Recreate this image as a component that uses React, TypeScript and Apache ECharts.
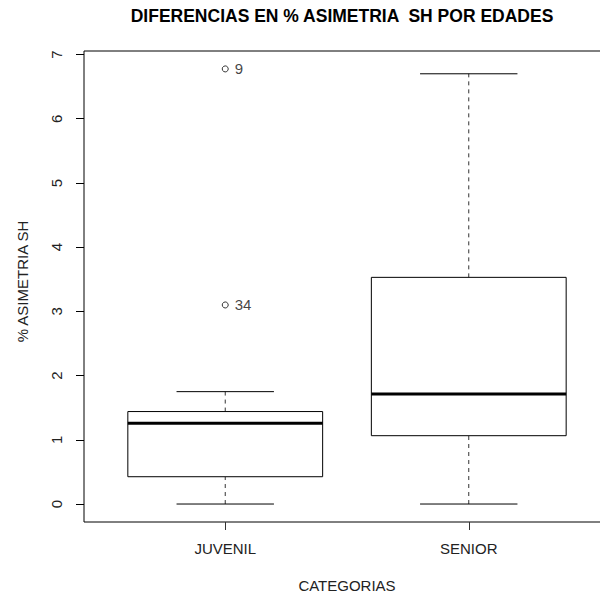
import React, { useEffect, useRef } from "react";
import * as echarts from "echarts";

// Five-number summaries per age group (boxplot statistics)
const categories = ["JUVENIL", "SENIOR"];
const lowerWhisker = [0, 0];
const q1 = [0.425, 1.064];
const median = [1.257, 1.713];
const q3 = [1.44, 3.53];
const upperWhisker = [1.75, 6.7];

// Outliers: group index, value and case id
const outlierGroup = [0, 0];
const outlierValues = [6.776, 3.1];
const outlierIds = ["9", "34"];

const yTicks = [0, 1, 2, 3, 4, 5, 6, 7];

const FONT = "'Liberation Sans', Arial, Helvetica, sans-serif";

export default function App() {
  const ref = useRef<HTMLDivElement>(null);

  useEffect(() => {
    if (!ref.current) return;
    const chart = echarts.init(ref.current, null, { renderer: "svg" });

    const boxData = categories.map((_, i) => [
      i + 1,
      lowerWhisker[i],
      q1[i],
      median[i],
      q3[i],
      upperWhisker[i],
    ]);
    const outlierData = outlierValues.map((v, i) => [
      outlierGroup[i] + 1,
      v,
      outlierIds[i],
    ]);

    const renderBox = (params: any, api: any) => {
      const x = api.value(0);
      const lo = api.coord([x, api.value(1)]);
      const b1 = api.coord([x, api.value(2)]);
      const md = api.coord([x, api.value(3)]);
      const b3 = api.coord([x, api.value(4)]);
      const hi = api.coord([x, api.value(5)]);
      const half = api.size([0.8, 0])[0] / 2;
      const capHalf = api.size([0.4, 0])[0] / 2;
      const cx = lo[0];
      return {
        type: "group",
        children: [
          {
            type: "line",
            shape: { x1: cx, y1: b3[1], x2: cx, y2: hi[1] },
            style: { stroke: "#333", lineWidth: 1, lineDash: [4, 4] },
          },
          {
            type: "line",
            shape: { x1: cx, y1: lo[1], x2: cx, y2: b1[1] },
            style: { stroke: "#333", lineWidth: 1, lineDash: [4, 4] },
          },
          {
            type: "line",
            shape: { x1: cx - capHalf, y1: hi[1], x2: cx + capHalf, y2: hi[1] },
            style: { stroke: "#000", lineWidth: 1 },
          },
          {
            type: "line",
            shape: { x1: cx - capHalf, y1: lo[1], x2: cx + capHalf, y2: lo[1] },
            style: { stroke: "#000", lineWidth: 1 },
          },
          {
            type: "rect",
            shape: { x: cx - half, y: b3[1], width: half * 2, height: b1[1] - b3[1] },
            style: { fill: "#fff", stroke: "#000", lineWidth: 1 },
          },
          {
            type: "line",
            shape: { x1: cx - half, y1: md[1], x2: cx + half, y2: md[1] },
            style: { stroke: "#000", lineWidth: 3 },
          },
        ],
      };
    };

    chart.setOption({
      animation: false,
      backgroundColor: "#fff",
      textStyle: { fontFamily: FONT },
      graphic: [
        {
          type: "text",
          x: 342,
          y: 16,
          style: {
            text: "DIFERENCIAS EN % ASIMETRIA  SH POR EDADES",
            align: "center",
            verticalAlign: "middle",
            fontFamily: FONT,
            fontWeight: "bold",
            fontSize: 17.5,
            fill: "#000",
          },
        },
      ],
      grid: {
        show: true,
        left: 84,
        top: 51,
        width: 526,
        height: 471,
        outerBoundsMode: "none",
        containLabel: false,
        borderColor: "#000",
        borderWidth: 1,
        backgroundColor: "transparent",
      },
      xAxis: {
        type: "value",
        min: 0.42,
        max: 2.58,
        name: "CATEGORIAS",
        nameLocation: "middle",
        nameGap: 56,
        nameTextStyle: { fontSize: 15, color: "#222", fontFamily: FONT },
        axisLine: { show: false, onZero: false },
        splitLine: { show: false },
        axisTick: {
          show: true,
          length: 8,
          customValues: [1, 2],
          lineStyle: { color: "#333" },
        },
        axisLabel: {
          show: true,
          customValues: [1, 2],
          margin: 19,
          fontSize: 15,
          color: "#222",
          fontFamily: FONT,
          formatter: (v: number) => categories[Math.round(v) - 1] ?? "",
        },
      },
      yAxis: {
        type: "value",
        min: -0.28,
        max: 7.055,
        name: "% ASIMETRIA SH",
        nameLocation: "middle",
        nameGap: 54,
        nameTextStyle: {
          fontSize: 15,
          color: "#222",
          fontFamily: FONT,
          padding: [0, 0, 0, 10],
        },
        axisLine: { show: false, onZero: false },
        splitLine: { show: false },
        axisTick: {
          show: true,
          length: 8,
          customValues: yTicks,
          lineStyle: { color: "#000" },
        },
        axisLabel: {
          show: true,
          customValues: yTicks,
          rotate: 90,
          margin: 20,
          fontSize: 15,
          color: "#222",
          fontFamily: FONT,
        },
      },
      series: [
        {
          type: "custom",
          renderItem: renderBox,
          data: boxData,
          encode: { x: 0, y: [1, 2, 3, 4, 5] },
          z: 2,
        },
        {
          type: "scatter",
          data: outlierData,
          symbol: "circle",
          symbolSize: 6,
          itemStyle: { color: "#fff", borderColor: "#000", borderWidth: 1 },
          label: {
            show: true,
            position: "right",
            distance: 6,
            fontSize: 15,
            color: "#111",
            fontFamily: FONT,
            formatter: (p: any) => p.value[2],
          },
          z: 3,
        },
      ],
    });

    return () => chart.dispose();
  }, []);

  return (
    <div
      ref={ref}
      style={{ position: "absolute", left: 0, top: 0, width: 600, height: 596, background: "#fff" }}
    />
  );
}
